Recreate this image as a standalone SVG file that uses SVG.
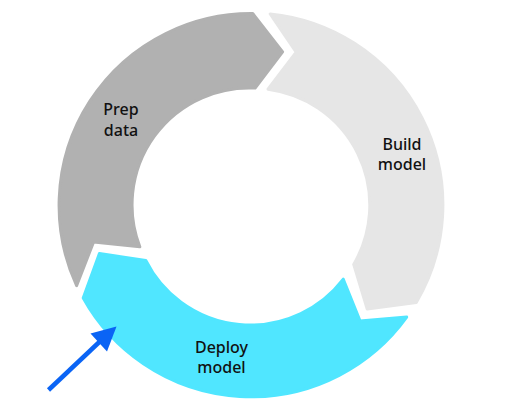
<svg xmlns="http://www.w3.org/2000/svg" width="512" height="406" viewBox="0 0 512 406">
<style>
.seg{stroke-linejoin:round;stroke-width:3}
.lbl{font-family:"Noto Sans","Open Sans","Liberation Sans",sans-serif;font-size:16px;font-weight:500;fill:#111;text-anchor:middle}
</style>
<rect width="512" height="406" fill="#fff"/>
<g id="prep-data">
<path class="seg" fill="#b1b1b1" stroke="#b1b1b1" d="M76.6,285.6 A192 192 0 0 1 252.7,13.5 L282.6,51.8 L255.1,88.1 A117 117 0 0 0 139.8,246.8 L93.6,241.9 Z"/>
<text class="lbl" x="121" y="115">Prep</text>
<text class="lbl" x="121" y="135.5">data</text>
</g>
<g id="build-model">
<path class="seg" fill="#e6e6e6" stroke="#e6e6e6" d="M270.2,13.9 A192 192 0 0 1 416.3,302.4 L367.2,309.1 L353.7,264.4 A117 117 0 0 0 268.0,89.2 L296.2,52.2 Z"/>
<text class="lbl" x="402" y="149.5">Build</text>
<text class="lbl" x="402" y="170">model</text>
</g>
<g id="deploy-model">
<path class="seg" fill="#50e6ff" stroke="#50e6ff" d="M406.7,317.1 A192 192 0 0 1 83.2,298.1 L99.4,253.6 L145.8,260.4 A117 117 0 0 0 343.3,279.2 L360.1,321.0 Z"/>
<text class="lbl" x="221.5" y="352.5">Deploy</text>
<text class="lbl" x="221.5" y="373">model</text>
</g>
<g id="connectors">
<line x1="48.5" y1="390" x2="102" y2="339.5" stroke="#0a64f5" stroke-width="4.5"/>
<path d="M116.5,326.5 L90.5,333.5 L107,351.5 Z" fill="#0a64f5"/>
</g>
</svg>
